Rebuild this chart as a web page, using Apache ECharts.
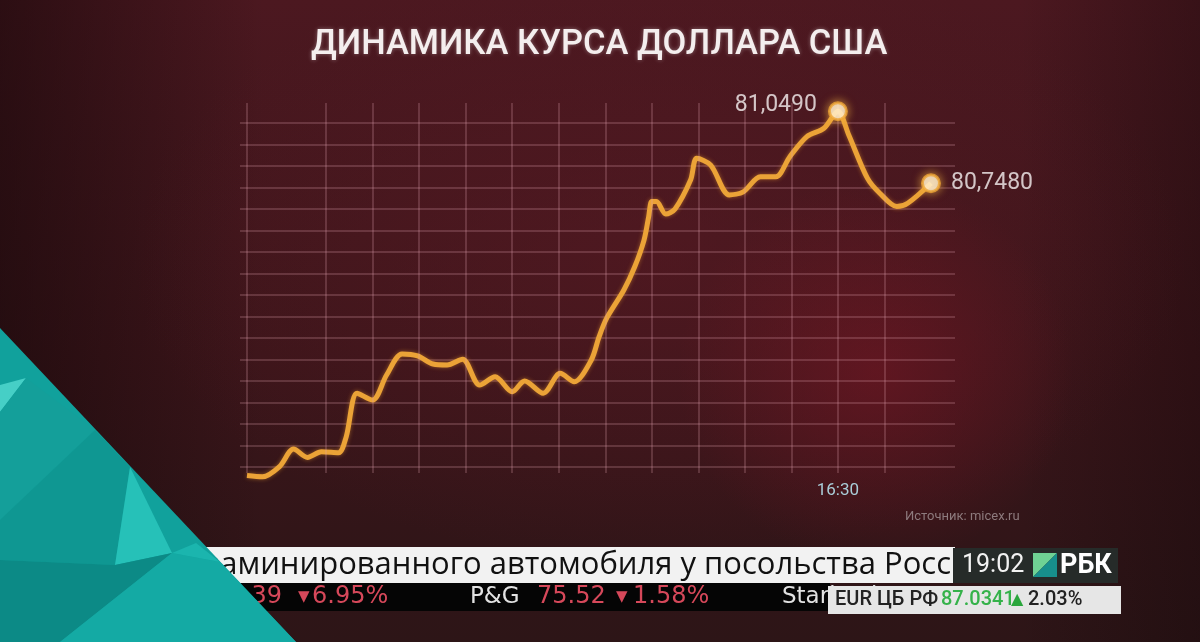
<!DOCTYPE html>
<html>
<head>
<meta charset="utf-8">
<script src="https://cdn.jsdelivr.net/npm/echarts@6/dist/echarts.min.js"></script>
<style>
html,body{margin:0;padding:0;width:1200px;height:642px;overflow:hidden;background:#2e1417;}
#chart{width:1200px;height:642px;
background:
 radial-gradient(ellipse 22% 40% at 73% 58%, rgba(120,22,36,0.55), rgba(120,22,36,0) 75%),
 radial-gradient(ellipse 55% 60% at 55% 40%, rgba(90,26,36,0.55), rgba(90,26,36,0) 80%),
 linear-gradient(90deg, rgba(18,6,8,0.55) 0%, rgba(18,6,8,0) 22%, rgba(18,6,8,0) 85%, rgba(18,6,8,0.35) 100%),
 linear-gradient(180deg, #4c1820 0%, #46171e 18%, #3c151a 55%, #311518 85%, #2d1517 100%);
}
</style>
</head>
<body>
<div id="chart"></div>
<script>
// ---- data (time in minutes since 00:00, USD/RUB rate) ----
const TIMES = [609, 619, 630, 639, 648, 657, 668, 673, 680, 690, 699, 709, 719, 729, 738, 748, 759, 769, 780, 788, 800, 811, 820, 831, 836, 841, 852, 859, 865, 868, 870, 873, 879, 885, 895, 899, 908, 920, 929, 940, 950, 959, 970, 981, 990, 997, 1009, 1017, 1028, 1035, 1050];
const RATES = [79.524, 79.519, 79.562, 79.635, 79.600, 79.624, 79.620, 79.687, 79.869, 79.840, 79.945, 80.033, 80.025, 79.991, 79.987, 80.011, 79.903, 79.938, 79.875, 79.920, 79.869, 79.952, 79.917, 80.008, 80.105, 80.184, 80.301, 80.398, 80.510, 80.608, 80.671, 80.671, 80.619, 80.640, 80.761, 80.852, 80.824, 80.699, 80.712, 80.775, 80.775, 80.859, 80.943, 80.978, 81.049, 80.950, 80.769, 80.706, 80.650, 80.664, 80.748];
const GRID_TIMES = [609, 660, 690, 720, 750, 780, 810, 840, 870, 900, 930, 960, 990, 1020];
const TICK_TIMES = [990];
const TITLE = 'ДИНАМИКА КУРСА ДОЛЛАРА США';
const SOURCE = 'Источник: micex.ru';
const NEWS = 'заминированного автомобиля у посольства Росс';

// axis extent one step beyond the outermost drawn grid lines (79.56 .. 81.00)
const Y_MIN = 79.47, Y_MAX = 81.09, Y_STEP = 0.09;
const V_TOP = 81.084, V_BOT = 79.535;

const lineData = TIMES.map((t, i) => [t, RATES[i]]);
let peakIdx = 0;
RATES.forEach((v, i) => { if (v > RATES[peakIdx]) peakIdx = i; });
const lastIdx = RATES.length - 1;
const fmtRate = v => v.toFixed(4).replace('.', ',');
const fmtTime = m => Math.floor(m / 60) + ':' + String(m % 60).padStart(2, '0');

const gridColor = 'rgba(228,165,178,0.30)';

const chart = echarts.init(document.getElementById('chart'), null, {renderer: 'canvas'});

const markerStyle = {
  color: '#fffaf0', borderColor: '#eea535', borderWidth: 3,
  shadowBlur: 10, shadowColor: 'rgba(255,190,70,0.8)'
};
const labelStyle = {show: true, color: '#f6f1f1', fontSize: 23, fontFamily: 'Roboto', formatter: p => fmtRate(p.value[1])};

const vLines = GRID_TIMES.map(t => [{coord: [t, V_TOP]}, {coord: [t, V_BOT]}]);

const tickerFont = 'DejaVu Sans';
const red = '#d6485a';

chart.setOption({
  backgroundColor: 'transparent',
  animation: false,
  title: {
    text: TITLE, left: 306, top: 23,
    textStyle: {color: '#f4eeee', fontSize: 34.5, fontWeight: 500, fontFamily: 'Roboto',
      textShadowColor: 'rgba(255,255,255,0.35)', textShadowBlur: 4}
  },
  grid: {left: 240, right: 245, top: 101.5, bottom: 153.5},
  xAxis: {
    type: 'value', min: 604.5, max: 1065.5, offset: -21.5,
    axisLine: {show: false}, axisTick: {show: false}, splitLine: {show: false},
    axisLabel: {customValues: TICK_TIMES, formatter: v => fmtTime(v), color: '#a9cdd8',
      fontSize: 17, fontFamily: 'Roboto', margin: 15}
  },
  yAxis: {
    type: 'value', min: Y_MIN, max: Y_MAX, interval: Y_STEP,
    axisLine: {show: false}, axisTick: {show: false}, axisLabel: {show: false},
    splitLine: {show: true, showMinLine: false, showMaxLine: false, lineStyle: {color: gridColor, width: 1.5}}
  },
  series: [
    {
      type: 'line', data: lineData, smooth: 0.3, clip: false, symbol: 'none', z: 3,
      lineStyle: {color: '#eba337', width: 5, shadowBlur: 4, shadowColor: 'rgba(255,170,50,0.45)'},
      markLine: {
        silent: true, symbol: 'none', label: {show: false},
        lineStyle: {color: gridColor, width: 1.5, type: 'solid'},
        data: vLines
      }
    },
    {
      type: 'scatter', z: 5, symbolSize: 17, clip: false,
      itemStyle: markerStyle,
      data: [
        {value: lineData[peakIdx], label: Object.assign({}, labelStyle, {position: 'left', distance: 11, offset: [0, -6]})},
        {value: lineData[lastIdx], label: Object.assign({}, labelStyle, {position: 'right', distance: 10})}
      ]
    }
  ],
  graphic: [
    // source
    {type: 'text', left: 905, top: 510, z: 10, style: {text: SOURCE, fill: '#8d7a7d', fontSize: 13, fontFamily: 'Roboto'}},
    // news bar
    {type: 'rect', z: 10, shape: {x: 150, y: 547, width: 805, height: 36}, style: {fill: '#f2f2f2'}},
    {type: 'text', z: 11, x: 951, y: 565, style: {text: NEWS, fill: '#111', fontSize: 31, fontFamily: 'Open Sans', align: 'right', verticalAlign: 'middle'}},
    // black ticker band
    {type: 'rect', z: 10, shape: {x: 150, y: 583, width: 680, height: 28}, style: {fill: '#050505'}},
    {type: 'text', z: 11, x: 282, y: 597, style: {text: '1.39', fill: red, fontSize: 24, fontFamily: tickerFont, align: 'right', verticalAlign: 'middle'}},
    {type: 'text', z: 11, x: 298, y: 597, style: {text: '▼', fill: red, fontSize: 15, fontFamily: tickerFont, verticalAlign: 'middle'}},
    {type: 'text', z: 11, x: 312, y: 597, style: {text: '6.95%', fill: red, fontSize: 24, fontFamily: tickerFont, verticalAlign: 'middle'}},
    {type: 'text', z: 11, x: 470, y: 597, style: {text: 'P&G', fill: '#e2e2e2', fontSize: 23, fontFamily: tickerFont, verticalAlign: 'middle'}},
    {type: 'text', z: 11, x: 537, y: 597, style: {text: '75.52', fill: red, fontSize: 24, fontFamily: tickerFont, verticalAlign: 'middle'}},
    {type: 'text', z: 11, x: 616, y: 597, style: {text: '▼', fill: red, fontSize: 15, fontFamily: tickerFont, verticalAlign: 'middle'}},
    {type: 'text', z: 11, x: 633, y: 597, style: {text: '1.58%', fill: red, fontSize: 24, fontFamily: tickerFont, verticalAlign: 'middle'}},
    {type: 'text', z: 11, x: 782, y: 597, style: {text: 'Starbucks', fill: '#e2e2e2', fontSize: 23, fontFamily: tickerFont, verticalAlign: 'middle'}},
    // grey EUR box
    {type: 'rect', z: 12, shape: {x: 828, y: 586, width: 293, height: 28}, style: {fill: '#e6e6e6'}},
    {type: 'text', z: 13, x: 835, y: 600, style: {text: 'EUR ЦБ РФ', fill: '#222', fontSize: 20, fontWeight: 500, fontFamily: 'Roboto', verticalAlign: 'middle'}},
    {type: 'text', z: 13, x: 941, y: 600, style: {text: '87.0341', fill: '#35b24a', fontSize: 20, fontWeight: 500, fontFamily: 'Roboto', verticalAlign: 'middle'}},
    {type: 'text', z: 13, x: 1011, y: 600, style: {text: '▲', fill: '#2aa63c', fontSize: 16, fontFamily: 'DejaVu Sans', verticalAlign: 'middle'}},
    {type: 'text', z: 13, x: 1028, y: 600, style: {text: '2.03%', fill: '#222', fontSize: 20, fontWeight: 500, fontFamily: 'Roboto', verticalAlign: 'middle'}},
    // dark clock box
    {type: 'rect', z: 12, shape: {x: 953, y: 548, width: 165, height: 35}, style: {fill: '#262b29'}},
    {type: 'text', z: 13, x: 962, y: 566, style: {text: '19:02', fill: '#f2f2f2', fontSize: 25, fontFamily: 'Roboto', verticalAlign: 'middle'}},
    {type: 'polygon', z: 13, shape: {points: [[1033, 553], [1057, 553], [1033, 577]]}, style: {fill: '#6fd294'}},
    {type: 'polygon', z: 13, shape: {points: [[1057, 553], [1057, 577], [1033, 577]]}, style: {fill: '#178f8c'}},
    {type: 'text', z: 13, x: 1060, y: 566, style: {text: 'РБК', fill: '#ffffff', fontSize: 27, fontWeight: 'bold', fontFamily: 'Roboto', verticalAlign: 'middle'}},
    // teal low-poly corner
    {type: 'polygon', z: 20, shape: {points: [[0, 328], [296, 642], [0, 642]]}, style: {fill: '#11a19c'}},
    {type: 'polygon', z: 21, shape: {points: [[0, 385], [26, 378], [0, 412]]}, style: {fill: '#46cfc6'}},
    {type: 'polygon', z: 21, shape: {points: [[0, 412], [26, 378], [95, 430], [0, 520]]}, style: {fill: '#149f9a'}},
    {type: 'polygon', z: 21, shape: {points: [[0, 520], [95, 430], [130, 467], [115, 565], [0, 560]]}, style: {fill: '#0f9792'}},
    {type: 'polygon', z: 21, shape: {points: [[130, 467], [172, 553], [115, 565]]}, style: {fill: '#26c1b8'}},
    {type: 'polygon', z: 21, shape: {points: [[0, 560], [115, 565], [172, 553], [60, 642], [0, 642]]}, style: {fill: '#0c8a86'}},
    {type: 'polygon', z: 21, shape: {points: [[172, 553], [220, 562], [296, 642], [60, 642]]}, style: {fill: '#14aaa4'}},
    {type: 'polygon', z: 21, shape: {points: [[172, 553], [196, 543], [220, 562]]}, style: {fill: '#1bb5ae'}}
  ]
});
</script>
</body>
</html>
